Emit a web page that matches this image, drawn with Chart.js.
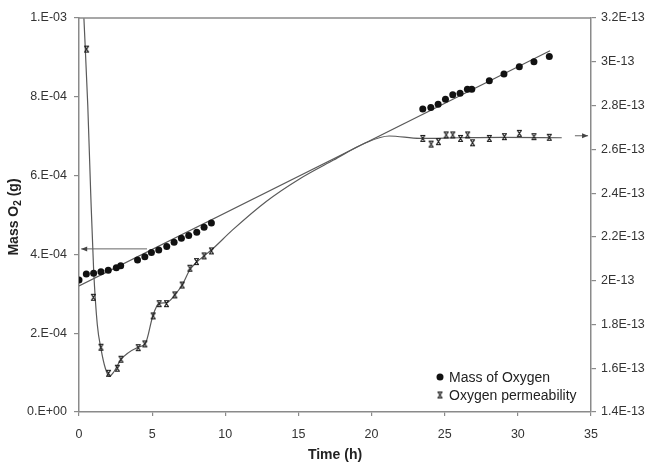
<!DOCTYPE html>
<html>
<head>
<meta charset="utf-8">
<script src="https://cdn.jsdelivr.net/npm/chart.js@4.4.1/dist/chart.umd.min.js"></script>
<style>
    body { margin: 0; background: #fff; }
    #wrap { width: 650px; height: 465px; }
</style>
</head>
<body>
<div id="wrap"><canvas id="o2Chart" width="650" height="465"></canvas></div>
<script>
// Mass of oxygen (g) vs time (h)
const massTime = [0, 0.5, 1.0, 1.5, 2.0, 2.55, 2.85, 4.0, 4.5, 4.95, 5.45, 6.0, 6.5, 7.0, 7.5, 8.05, 8.55, 9.05,
    23.5, 24.05, 24.55, 25.05, 25.55, 26.05, 26.55, 26.85, 28.05, 29.05, 30.1, 31.1, 32.15];
const massO2 = [3.35e-4, 3.50e-4, 3.52e-4, 3.56e-4, 3.60e-4, 3.66e-4, 3.71e-4, 3.86e-4, 3.94e-4, 4.05e-4, 4.11e-4,
    4.20e-4, 4.31e-4, 4.41e-4, 4.48e-4, 4.56e-4, 4.69e-4, 4.80e-4,
    7.69e-4, 7.73e-4, 7.81e-4, 7.94e-4, 8.05e-4, 8.09e-4, 8.19e-4, 8.19e-4, 8.41e-4, 8.58e-4, 8.76e-4, 8.89e-4, 9.02e-4];

// linear trend line of the mass
const trendTime = [0, 32.2];
const trendMass = [3.20e-4, 9.17e-4];

// Oxygen permeability vs time (h)
const permTime = [0.52, 0.98, 1.5, 2.02, 2.62, 2.87, 4.05, 4.5, 5.07, 5.48, 5.98, 6.55, 7.05, 7.58, 8.03, 8.55, 9.05,
    23.5, 24.07, 24.57, 25.1, 25.55, 26.08, 26.57, 26.9, 28.05, 29.08, 30.1, 31.1, 32.15];
const permValue = [3.058e-13, 1.924e-13, 1.696e-13, 1.577e-13, 1.600e-13, 1.641e-13, 1.694e-13, 1.711e-13, 1.839e-13,
    1.895e-13, 1.895e-13, 1.935e-13, 1.980e-13, 2.057e-13, 2.087e-13, 2.113e-13, 2.136e-13,
    2.650e-13, 2.624e-13, 2.635e-13, 2.666e-13, 2.666e-13, 2.650e-13, 2.666e-13, 2.630e-13, 2.650e-13, 2.658e-13,
    2.673e-13, 2.658e-13, 2.655e-13];

// fitted curve through the permeability
const fitTime = [0.30, 0.6, 0.8, 1.0, 1.25, 1.5, 1.8, 2.07, 2.4, 2.87, 4.0, 4.55, 5.05, 5.45, 6.0, 6.55, 7.05, 7.58,
    8.05, 8.55, 9.05, 10.5, 12.8, 15.1, 17.4, 19.6, 21.2, 23.3, 26, 29, 33.0];
const fitPerm = [3.25e-13, 2.80e-13, 2.40e-13, 2.05e-13, 1.80e-13, 1.69e-13, 1.60e-13, 1.563e-13, 1.585e-13, 1.64e-13,
    1.695e-13, 1.715e-13, 1.84e-13, 1.895e-13, 1.90e-13, 1.935e-13, 1.98e-13, 2.05e-13, 2.085e-13, 2.113e-13,
    2.140e-13, 2.232e-13, 2.362e-13, 2.466e-13, 2.551e-13, 2.630e-13, 2.661e-13, 2.650e-13, 2.653e-13, 2.655e-13, 2.653e-13];

// arrows pointing each series to its axis: [time, value] start and end
const massArrow = [[4.65, 4.14e-4], [0.15, 4.14e-4]];
const permArrow = [[33.9, 2.662e-13], [34.8, 2.662e-13]];

// ticks
const timeTicks = [0, 5, 10, 15, 20, 25, 30, 35];
const massTicks = [0, 2e-4, 4e-4, 6e-4, 8e-4, 1e-3];
const massTickLabels = ['0.E+00', '2.E-04', '4.E-04', '6.E-04', '8.E-04', '1.E-03'];
const permTicks = [1.4e-13, 1.6e-13, 1.8e-13, 2.0e-13, 2.2e-13, 2.4e-13, 2.6e-13, 2.8e-13, 3.0e-13, 3.2e-13];
const permTickLabels = ['1.4E-13', '1.6E-13', '1.8E-13', '2E-13', '2.2E-13', '2.4E-13', '2.6E-13', '2.8E-13', '3E-13', '3.2E-13'];

const FONT = '"Liberation Sans", Arial, sans-serif';
const AXIS_GREY = '#8a8a8a';
const LINE_GREY = '#5a5a5a';

function pairs(xs, ys) {
    return xs.map((x, i) => ({ x: x, y: ys[i] }));
}

// the little "x" marker with bars top and bottom
function crossMarker() {
    const c = document.createElement('canvas');
    c.width = 9;
    c.height = 9;
    const g = c.getContext('2d');
    g.strokeStyle = '#1a1a1a';
    g.lineWidth = 1.2;
    g.beginPath();
    g.moveTo(2, 1.5); g.lineTo(7, 1.5);
    g.moveTo(2, 7.5); g.lineTo(7, 7.5);
    g.moveTo(2.5, 1.5); g.lineTo(6.5, 7.5);
    g.moveTo(6.5, 1.5); g.lineTo(2.5, 7.5);
    g.stroke();
    return c;
}
const crossImg = crossMarker();

function drawArrow(ctx, x1, y1, x2, y2) {
    const ang = Math.atan2(y2 - y1, x2 - x1);
    ctx.beginPath();
    ctx.moveTo(x1, y1);
    ctx.lineTo(x2, y2);
    ctx.stroke();
    ctx.beginPath();
    ctx.moveTo(x2, y2);
    ctx.lineTo(x2 - 6 * Math.cos(ang) + 2.5 * Math.sin(ang), y2 - 6 * Math.sin(ang) - 2.5 * Math.cos(ang));
    ctx.lineTo(x2 - 6 * Math.cos(ang) - 2.5 * Math.sin(ang), y2 - 6 * Math.sin(ang) + 2.5 * Math.cos(ang));
    ctx.closePath();
    ctx.fill();
}

const extras = {
    id: 'extras',
    afterDraw(chart) {
        const ctx = chart.ctx;
        const a = chart.chartArea;
        const x = chart.scales.x, yl = chart.scales.yMass, yr = chart.scales.yPerm;
        ctx.save();

        // top frame line
        ctx.strokeStyle = AXIS_GREY;
        ctx.lineWidth = 1.5;
        ctx.beginPath();
        ctx.moveTo(a.left, a.top);
        ctx.lineTo(a.right, a.top);
        ctx.stroke();

        // arrows
        ctx.strokeStyle = '#666';
        ctx.fillStyle = '#444';
        ctx.lineWidth = 1;
        drawArrow(ctx, x.getPixelForValue(massArrow[0][0]), yl.getPixelForValue(massArrow[0][1]),
            x.getPixelForValue(massArrow[1][0]), yl.getPixelForValue(massArrow[1][1]));
        drawArrow(ctx, x.getPixelForValue(permArrow[0][0]), yr.getPixelForValue(permArrow[0][1]),
            x.getPixelForValue(permArrow[1][0]), yr.getPixelForValue(permArrow[1][1]));

        // legend inside the plot
        const lx = 440, ly = 377;
        ctx.fillStyle = '#111';
        ctx.beginPath();
        ctx.arc(lx, ly, 3.5, 0, Math.PI * 2);
        ctx.fill();
        ctx.drawImage(crossImg, lx - 4.5, ly + 18 - 4.5);
        ctx.fillStyle = '#222';
        ctx.font = '14px ' + FONT;
        ctx.textBaseline = 'alphabetic';
        ctx.textAlign = 'left';
        ctx.fillText(chart.data.datasets[0].label, lx + 9, ly + 5);
        ctx.fillText(chart.data.datasets[2].label, lx + 9, ly + 23);

        // x axis title
        ctx.font = 'bold 14px ' + FONT;
        ctx.textAlign = 'center';
        ctx.fillText('Time (h)', (a.left + a.right) / 2, 459);

        // y axis title with subscript
        const big = 'bold 14px ' + FONT, small = 'bold 10px ' + FONT;
        const p1 = 'Mass O', p2 = '2', p3 = ' (g)';
        ctx.font = big;
        const w1 = ctx.measureText(p1).width, w3 = ctx.measureText(p3).width;
        ctx.font = small;
        const w2 = ctx.measureText(p2).width;
        const total = w1 + w2 + w3;
        ctx.translate(18, 217);
        ctx.rotate(-Math.PI / 2);
        ctx.textAlign = 'left';
        ctx.font = big;
        ctx.fillText(p1, -total / 2, 0);
        ctx.font = small;
        ctx.fillText(p2, -total / 2 + w1, 3);
        ctx.font = big;
        ctx.fillText(p3, -total / 2 + w1 + w2, 0);

        ctx.restore();
    }
};

const tickGrid = {
    drawOnChartArea: false,
    drawTicks: true,
    tickLength: 5,
    color: AXIS_GREY,
    lineWidth: 1.2
};

new Chart(document.getElementById('o2Chart').getContext('2d'), {
    type: 'scatter',
    data: {
        datasets: [{
            label: 'Mass of Oxygen',
            data: pairs(massTime, massO2),
            yAxisID: 'yMass',
            showLine: false,
            pointStyle: 'circle',
            pointRadius: 3.5,
            pointBackgroundColor: '#111',
            pointBorderColor: '#111',
            pointBorderWidth: 0,
            order: 1
        }, {
            label: 'Mass trend',
            data: pairs(trendTime, trendMass),
            yAxisID: 'yMass',
            showLine: true,
            pointRadius: 0,
            borderColor: LINE_GREY,
            borderWidth: 1.2,
            order: 3
        }, {
            label: 'Oxygen permeability',
            data: pairs(permTime, permValue),
            yAxisID: 'yPerm',
            showLine: false,
            pointStyle: crossImg,
            pointRadius: 4.5,
            order: 2
        }, {
            label: 'Permeability fit',
            data: pairs(fitTime, fitPerm),
            yAxisID: 'yPerm',
            showLine: true,
            pointRadius: 0,
            borderColor: LINE_GREY,
            borderWidth: 1.2,
            cubicInterpolationMode: 'monotone',
            order: 4
        }]
    },
    options: {
        responsive: false,
        animation: false,
        events: [],
        layout: {
            padding: { top: 18, left: 0, right: 0, bottom: 0 }
        },
        plugins: {
            legend: { display: false },
            tooltip: { enabled: false }
        },
        scales: {
            x: {
                type: 'linear',
                min: 0,
                max: 35,
                afterBuildTicks: s => { s.ticks = timeTicks.map(v => ({ value: v })); },
                afterFit: s => { s.height = 53; },
                grid: Object.assign({}, tickGrid, { tickLength: 4 }),
                border: { color: AXIS_GREY, width: 1.5 },
                ticks: {
                    padding: 11,
                    color: '#333',
                    font: { family: FONT, size: 12.5 },
                    maxRotation: 0
                }
            },
            yMass: {
                type: 'linear',
                position: 'left',
                min: 0,
                max: 1e-3,
                afterBuildTicks: s => { s.ticks = massTicks.map(v => ({ value: v })); },
                afterFit: s => { s.width = 79; },
                grid: tickGrid,
                border: { color: AXIS_GREY, width: 1.5 },
                ticks: {
                    padding: 7,
                    color: '#333',
                    font: { family: FONT, size: 12.5 },
                    callback: (v, i) => massTickLabels[i]
                }
            },
            yPerm: {
                type: 'linear',
                position: 'right',
                min: 1.4e-13,
                max: 3.2e-13,
                afterBuildTicks: s => { s.ticks = permTicks.map(v => ({ value: v })); },
                afterFit: s => { s.width = 59; },
                grid: tickGrid,
                border: { color: AXIS_GREY, width: 1.5 },
                ticks: {
                    padding: 5,
                    color: '#333',
                    font: { family: FONT, size: 12.5 },
                    callback: (v, i) => permTickLabels[i]
                }
            }
        }
    },
    plugins: [extras]
});
</script>
</body>
</html>
